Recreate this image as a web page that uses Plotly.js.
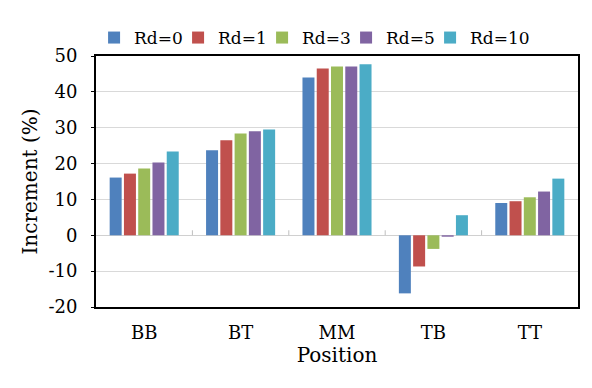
<!DOCTYPE html>
<html>
<head>
<meta charset="utf-8">
<script src="https://cdn.plot.ly/plotly-3.0.1.min.js"></script>
<style>
html,body{margin:0;padding:0;background:#fff;}
#chart{width:592px;height:388px;outline:1px solid #d9d9d9;outline-offset:-1px;}
</style>
</head>
<body>
<div id="chart"></div>
<script>
const categories = ["BB", "BT", "MM", "TB", "TT"];
const seriesNames = ["Rd=0", "Rd=1", "Rd=3", "Rd=5", "Rd=10"];
const rd0  = [16.1, 23.7, 44.0, -16.2, 9.0];
const rd1  = [17.2, 26.5, 46.5, -8.7, 9.5];
const rd3  = [18.6, 28.4, 47.1, -3.8, 10.6];
const rd5  = [20.3, 29.0, 47.1, -0.4, 12.2];
const rd10 = [23.4, 29.5, 47.7, 5.6, 15.8];
const seriesValues = [rd0, rd1, rd3, rd5, rd10];
const colors = ["#4F81BD", "#C0504D", "#9BBB59", "#8064A2", "#4BACC6"];
const yTicks = [-20, -10, 0, 10, 20, 30, 40, 50];

const font = "DejaVu Serif";

const traces = seriesValues.map((vals, i) => {
  const t = {
    type: "bar",
    name: seriesNames[i],
    x: categories,
    y: vals,
    marker: {color: colors[i]}
  };
  if (i === seriesValues.length - 1) t.legendwidth = 70;
  return t;
});

// small category divider ticks on the zero line
const shapes = categories.slice(0, -1).map((c, i) => ({
  type: "line", xref: "x", yref: "y",
  x0: i + 0.5, x1: i + 0.5, y0: 0, y1: 1.4,
  line: {color: "#bfbfbf", width: 1}
}));

const layout = {
  width: 592, height: 388,
  margin: {l: 96, r: 14, t: 56, b: 81},
  paper_bgcolor: "#fff", plot_bgcolor: "#fff",
  font: {family: font, size: 17, color: "#000"},
  barmode: "group",
  bargap: 0.26,
  bargroupgap: 0.16,
  showlegend: true,
  legend: {
    orientation: "h", x: -0.004, xanchor: "left", y: 1.0, yanchor: "bottom",
    font: {family: font, size: 17}, itemwidth: 30, tracegroupgap: 0,
    entrywidth: 39, entrywidthmode: "pixels",
    bgcolor: "rgba(0,0,0,0)"
  },
  xaxis: {
    type: "category",
    showline: true, mirror: true, linecolor: "#000", linewidth: 2,
    showgrid: false, ticks: "", ticklabelstandoff: 8,
    tickfont: {family: font, size: 18},
    title: {text: "Position", font: {family: font, size: 20}, standoff: 6}
  },
  yaxis: {
    range: [-20, 50], tickvals: yTicks, ticktext: yTicks.map(String),
    showline: true, mirror: true, linecolor: "#000", linewidth: 2,
    showgrid: true, gridcolor: "#d9d9d9", gridwidth: 1,
    zeroline: true, zerolinecolor: "#d0d0d0", zerolinewidth: 1,
    ticks: "outside", ticklen: 3, tickcolor: "#000", ticklabelstandoff: 10,
    tickfont: {family: font, size: 18},
    title: {text: "Increment (%)", font: {family: font, size: 20}, standoff: 5}
  },
  shapes: shapes
};

Plotly.newPlot("chart", traces, layout, {displayModeBar: false, staticPlot: true});
</script>
</body>
</html>
